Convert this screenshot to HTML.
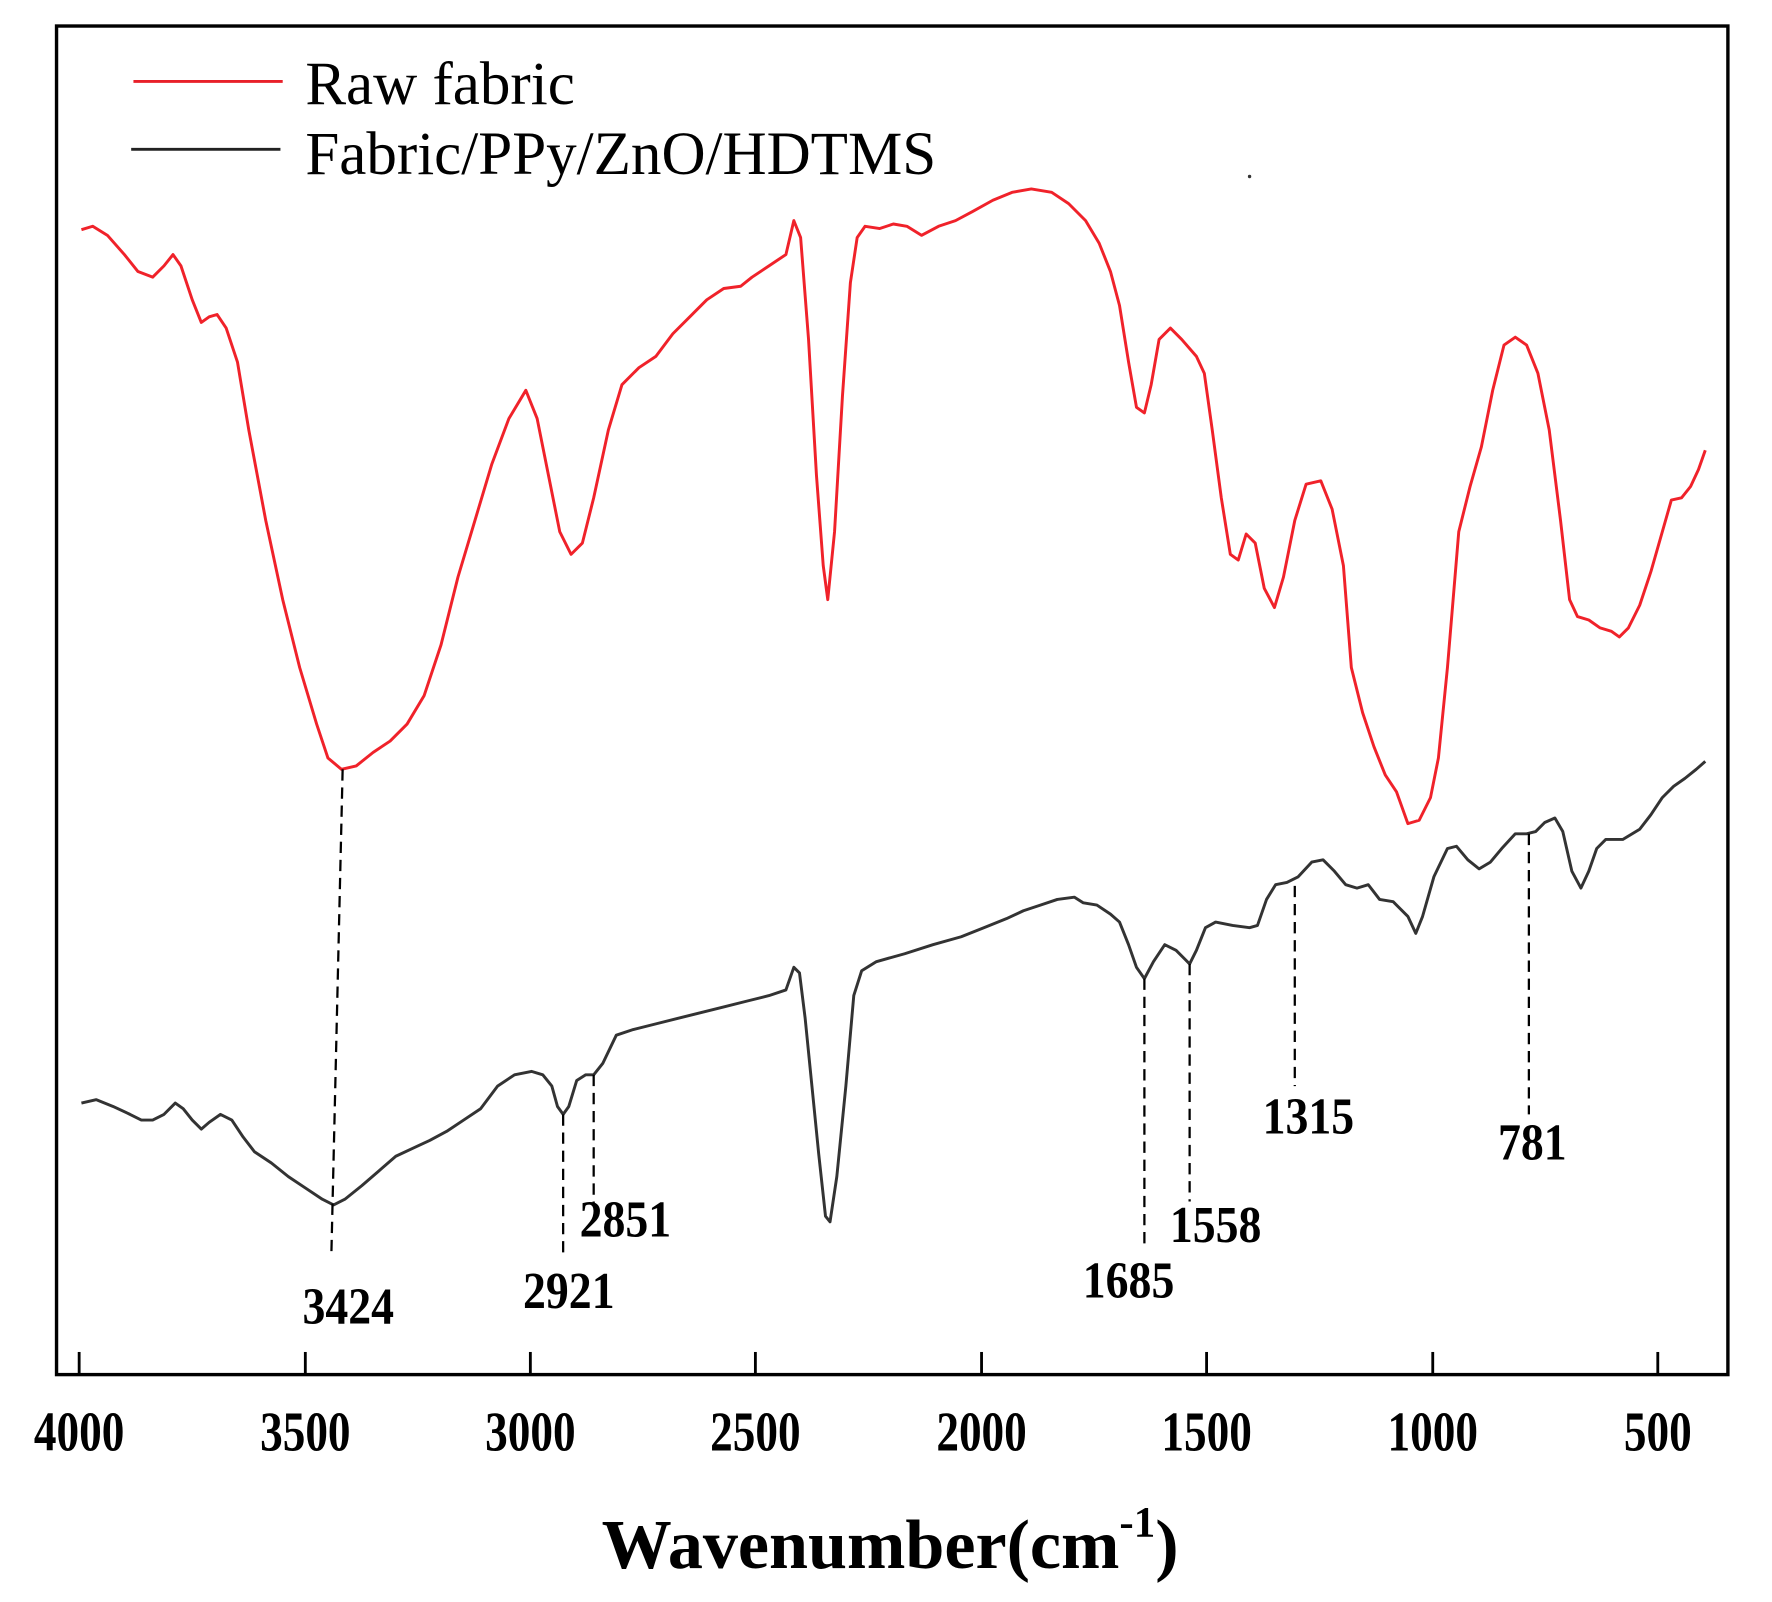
<!DOCTYPE html>
<html><head><style>html,body{margin:0;padding:0;background:#fff}svg{display:block}</style></head>
<body>
<svg width="1772" height="1602" viewBox="0 0 1567 1416" preserveAspectRatio="none" xmlns="http://www.w3.org/2000/svg" font-family="'Liberation Serif', serif">
<rect x="0" y="0" width="1567" height="1416" fill="#fff"/>
<rect x="50" y="23" width="1478" height="1192" fill="none" stroke="#000" stroke-width="3"/>
<g stroke="#000" stroke-width="2.5">
<line x1="70" y1="1215" x2="70" y2="1195"/><line x1="270" y1="1215" x2="270" y2="1195"/><line x1="469" y1="1215" x2="469" y2="1195"/><line x1="668" y1="1215" x2="668" y2="1195"/><line x1="868" y1="1215" x2="868" y2="1195"/><line x1="1067" y1="1215" x2="1067" y2="1195"/><line x1="1267" y1="1215" x2="1267" y2="1195"/><line x1="1466" y1="1215" x2="1466" y2="1195"/>
</g>
<g font-size="50" font-weight="bold" text-anchor="middle">
<text transform="translate(70,1282) scale(0.8,1)">4000</text>
<text transform="translate(270,1282) scale(0.8,1)">3500</text>
<text transform="translate(469,1282) scale(0.8,1)">3000</text>
<text transform="translate(668,1282) scale(0.8,1)">2500</text>
<text transform="translate(868,1282) scale(0.8,1)">2000</text>
<text transform="translate(1067,1282) scale(0.8,1)">1500</text>
<text transform="translate(1267,1282) scale(0.8,1)">1000</text>
<text transform="translate(1466,1282) scale(0.8,1)">500</text>
</g>
<text transform="translate(532,1386) scale(1,1)" font-size="62" font-weight="bold">Wavenumber(cm<tspan font-size="38" dy="-28">-1</tspan><tspan dy="28">)</tspan></text>
<line x1="118" y1="72" x2="250" y2="72" stroke="#e8202a" stroke-width="2.5"/>
<text x="270" y="92" font-size="54">Raw fabric</text>
<line x1="116" y1="132" x2="248" y2="132" stroke="#222" stroke-width="2.5"/>
<text x="270" y="154" font-size="54">Fabric/PPy/ZnO/HDTMS</text>
<polyline fill="none" stroke="#f0222a" stroke-width="2.6" stroke-linejoin="round" points="72,203 82,200 95,208 110,225 122,240 135,245 145,235 153,225 160,235 170,265 178,285 185,280 192,278 200,290 210,320 220,380 235,460 250,530 265,590 280,640 290,670 302,680 315,677 330,665 345,655 360,640 375,615 390,570 405,510 420,460 435,410 450,370 465,345 475,370 485,420 495,470 505,490 515,480 525,440 538,380 550,340 565,325 580,315 595,295 610,280 625,265 640,255 655,253 665,245 680,235 695,225 702,195 708,210 715,300 722,420 728,500 732,530 738,470 745,350 752,250 758,210 765,200 778,202 790,198 802,200 815,208 830,200 845,195 860,187 878,177 895,170 912,167 930,170 945,180 960,195 972,215 982,240 990,270 998,320 1005,360 1012,365 1018,340 1025,300 1035,290 1045,300 1058,315 1065,330 1072,380 1080,440 1088,490 1095,495 1102,472 1110,480 1118,520 1127,537 1135,510 1145,460 1155,428 1168,425 1178,450 1188,500 1195,590 1205,630 1215,660 1225,685 1235,700 1245,728 1255,725 1265,705 1272,670 1280,590 1290,470 1300,430 1310,395 1320,345 1330,305 1340,298 1350,305 1360,330 1370,380 1380,460 1388,530 1395,545 1405,548 1415,555 1425,558 1432,563 1440,555 1450,535 1460,505 1470,470 1478,442 1487,440 1495,430 1502,415 1508,398"/>
<polyline fill="none" stroke="#333" stroke-width="2.6" stroke-linejoin="round" points="72,975 85,972 100,978 115,985 125,990 135,990 145,985 155,975 162,980 170,990 178,998 185,992 195,985 205,990 215,1005 225,1018 240,1028 255,1040 270,1050 285,1060 295,1065 305,1060 320,1048 335,1035 350,1022 365,1015 380,1008 395,1000 410,990 425,980 440,960 455,950 470,947 480,950 488,960 493,978 498,985 503,978 510,955 518,950 525,950 533,940 545,915 560,910 580,905 600,900 620,895 640,890 660,885 680,880 695,875 702,855 707,860 712,900 718,960 724,1020 730,1075 734,1080 740,1040 748,960 755,880 762,858 775,850 800,843 825,835 850,828 870,820 890,812 905,805 920,800 935,795 950,793 958,798 970,800 982,808 990,815 998,835 1005,855 1012,865 1020,850 1030,835 1040,840 1048,848 1052,852 1058,840 1066,820 1075,815 1090,818 1105,820 1112,818 1120,795 1128,782 1138,780 1148,775 1160,762 1170,760 1180,770 1190,782 1200,785 1210,782 1220,795 1232,797 1245,810 1252,825 1258,810 1268,775 1280,750 1288,748 1298,760 1308,768 1318,762 1328,750 1340,737 1350,737 1358,735 1366,727 1375,723 1382,735 1390,770 1398,785 1405,770 1412,750 1420,742 1435,742 1450,733 1460,720 1470,705 1480,695 1490,688 1500,680 1508,673"/>
<g stroke="#000" stroke-width="2" stroke-dasharray="10,6" fill="none">
<line x1="303" y1="680" x2="293" y2="1110"/><line x1="498" y1="985" x2="498" y2="1112"/><line x1="525" y1="950" x2="525" y2="1065"/><line x1="1012" y1="865" x2="1012" y2="1105"/><line x1="1052" y1="852" x2="1052" y2="1062"/><line x1="1145" y1="783" x2="1145" y2="960"/><line x1="1352" y1="737" x2="1352" y2="985"/>
</g>
<g font-size="46" font-weight="bold" text-anchor="middle">
<text transform="translate(308,1170) scale(0.88,1)">3424</text>
<text transform="translate(503,1156) scale(0.88,1)">2921</text>
<text transform="translate(553,1093) scale(0.88,1)">2851</text>
<text transform="translate(998,1147) scale(0.88,1)">1685</text>
<text transform="translate(1075,1098) scale(0.88,1)">1558</text>
<text transform="translate(1157,1002) scale(0.88,1)">1315</text>
<text transform="translate(1355,1025) scale(0.88,1)">781</text>
</g>
<circle cx="1105" cy="156" r="1.5" fill="#333"/>
</svg>
</body></html>
